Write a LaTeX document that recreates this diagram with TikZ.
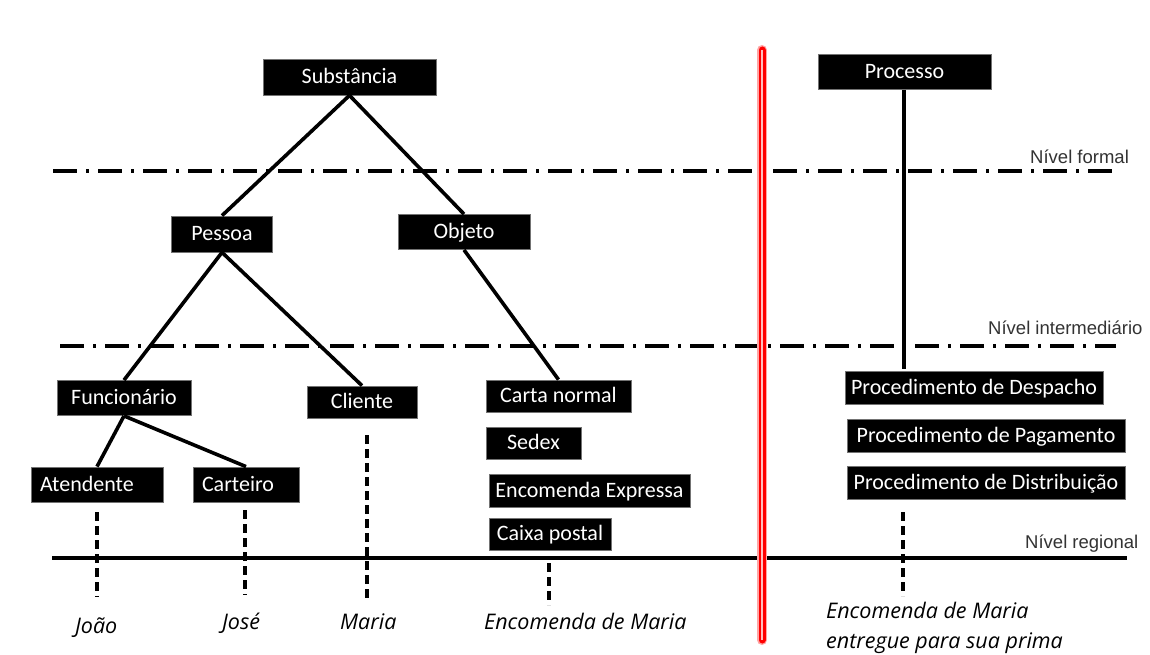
\documentclass[tikz,border=0pt]{standalone}
\usepackage{fontspec}
\newfontfamily\boxfont{Carlito}
\newfontfamily\lblfont{Liberation Sans}
\newfontfamily\itfont{Open Sans}
\begin{document}
\begin{tikzpicture}[x=1pt,y=-1pt,
  bx/.style={fill=black,draw=black!55,line width=0.8pt,text=white,
    font=\boxfont\fontsize{22}{25}\selectfont,minimum height=33pt,inner sep=0pt,
    text height=15pt,text depth=2pt},
  lbx/.style={bx,align=left,inner xsep=9pt},
  tree/.style={line width=3.6pt},
  lvl/.style={line width=3.6pt,dash pattern=on 24pt off 9pt on 3pt off 9pt},
  drop/.style={line width=3.6pt,dash pattern=on 9pt off 5pt},
  lvltxt/.style={font=\lblfont\fontsize{18.5}{21}\selectfont,text=black!80,inner sep=0pt},
  inst/.style={font=\itfont\itshape\fontsize{21.5}{30}\selectfont,inner sep=0pt,align=left}]
\useasboundingbox (0,0) rectangle (1150,655);
\fill[white] (0,0) rectangle (1150,655);

% level lines
\coordinate (f1) at (53,171); \coordinate (f2) at (1112,171);
\coordinate (i1) at (60,346); \coordinate (i2) at (1116,346);
\coordinate (r1) at (52,558); \coordinate (r2) at (1127,558);
\draw[lvl] (f1) -- (f2);
\draw[lvl] (i1) -- (i2);
\draw[line width=3.3pt] (r1) -- (r2);
\node[lvltxt,anchor=base west] (nf) at (1030,164) {Nível formal};
\node[lvltxt,anchor=base west] (ni) at (988,334) {Nível intermediário};
\node[lvltxt,anchor=base west] (nr) at (1025,548) {Nível regional};

% boxes
\node[bx,minimum width=173pt,minimum height=36pt] (sub) at (349.5,77) {Substância};
\node[bx,minimum width=101pt,minimum height=36pt] (pes) at (222,234) {Pessoa};
\node[bx,minimum width=132pt,minimum height=35pt] (obj) at (464,232) {Objeto};
\node[bx,minimum width=173pt,minimum height=35pt] (pro) at (904.5,72) {Processo};
\node[bx,minimum width=134pt,minimum height=35pt] (fun) at (124,398) {Funcionário};
\node[bx,minimum width=110pt,minimum height=32pt] (cli) at (362,402) {Cliente};
\node[bx,minimum width=145pt,minimum height=32pt] (car) at (558.5,396) {Carta normal};
\node[bx,minimum width=95pt,minimum height=32pt] (sed) at (533.5,443) {Sedex};
\node[bx,minimum width=201pt,minimum height=33pt] (enc) at (589.5,490.5) {Encomenda Expressa};
\node[bx,minimum width=122pt,minimum height=32pt] (cai) at (550,534) {Caixa postal};
\node[lbx,text width=114pt,minimum height=35pt] (ate) at (97,484.5) {Atendente};
\node[lbx,text width=88pt,minimum height=35pt] (ctr) at (246,484.5) {Carteiro};
\node[bx,minimum width=258pt] (pdd) at (974,387.5) {Procedimento de Despacho};
\node[bx,minimum width=278pt] (pdp) at (986,435.5) {Procedimento de Pagamento};
\node[bx,minimum width=278pt] (pdi) at (986,482.5) {Procedimento de Distribuição};

% tree connectors
\draw[tree] (sub.south) -- (pes.north);
\draw[tree] (sub.south) -- (obj.north);
\draw[tree] (pes.south) -- (fun.north);
\draw[tree] (pes.south) -- (cli.north);
\draw[tree] (obj.south) -- (car.north);
\draw[tree] (fun.south) -- (ate.north);
\draw[tree] (fun.south) -- (ctr.north);
\coordinate (pdtop) at (904,369);
\draw[tree] (pro.south -| pdtop) -- (pdtop);

% instances
\node[inst,anchor=base west] (joao) at (75,633) {João};
\node[inst,anchor=base west] (jose) at (222,629) {José};
\node[inst,anchor=base west] (mar) at (340,629) {Maria};
\node[inst,anchor=base west] (encm) at (484,629) {Encomenda de Maria};
\node[inst,anchor=north west] (encp) at (826,602) {Encomenda de Maria\\entregue para sua prima};

% drop lines
\coordinate (d1a) at (97,512); \coordinate (d1b) at (97,597);
\coordinate (d2a) at (245,510); \coordinate (d2b) at (245,595);
\coordinate (d3a) at (367,435); \coordinate (d3b) at (367,600);
\coordinate (d4a) at (549,563); \coordinate (d4b) at (549,605);
\coordinate (d5a) at (903,512); \coordinate (d5b) at (903,596);
\draw[drop] (d1a) -- (d1b);
\draw[drop] (d2a) -- (d2b);
\draw[drop] (d3a) -- (d3b);
\draw[drop] (d4a) -- (d4b);
\draw[drop] (d5a) -- (d5b);

% red divider
\coordinate (rt) at (762,50); \coordinate (rb) at (762,640);
\draw[red!35,line width=10pt,line cap=round] (rt) -- (rb);
\draw[red,line width=7pt,line cap=round] (rt) -- (rb);
\draw[red!25,line width=2.5pt] (rt) -- (rb);
\end{tikzpicture}
\end{document}
